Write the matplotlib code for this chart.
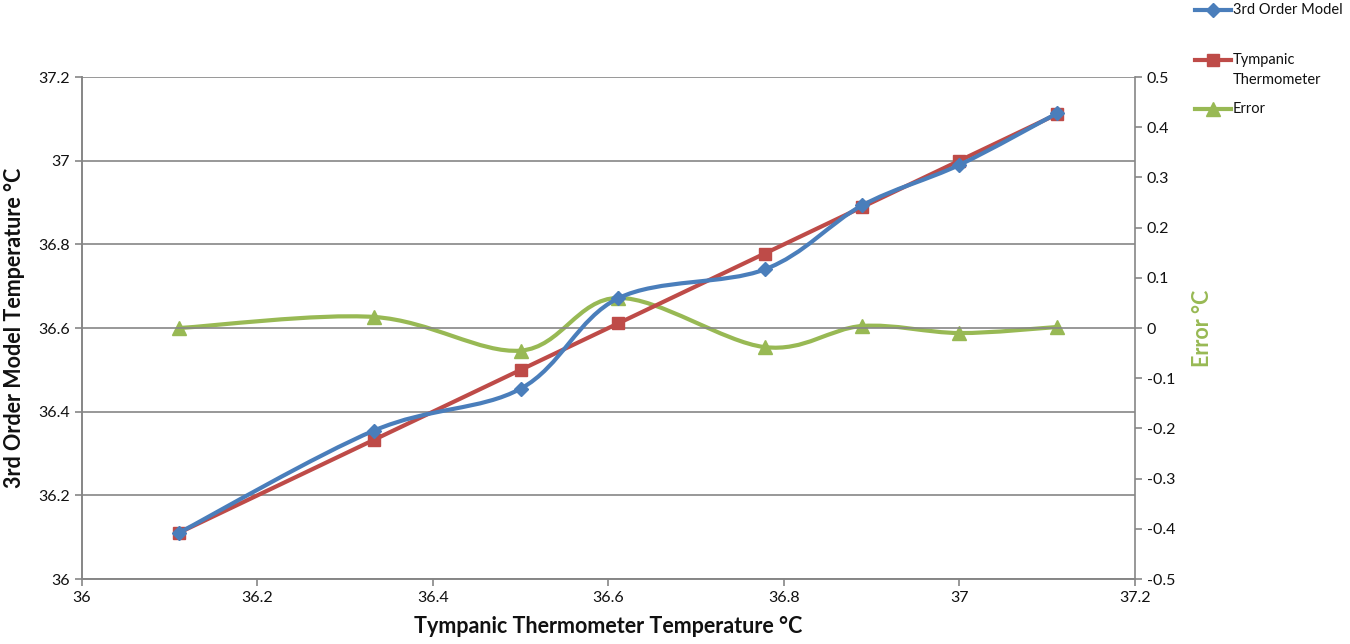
#!/usr/bin/env python3
"""Model vs tympanic thermometer temperature, with error on a secondary axis."""
import numpy as np
import matplotlib
matplotlib.use("Agg")
import matplotlib.pyplot as plt
from matplotlib.path import Path
from matplotlib.patches import PathPatch
from matplotlib.lines import Line2D

plt.rcParams["font.family"] = ["Lato", "DejaVu Sans"]

tympanic = [36.111, 36.333, 36.5, 36.611, 36.778, 36.889, 37.0, 37.111]
model    = [36.111, 36.355, 36.455, 36.671, 36.740, 36.893, 36.990, 37.113]
error    = [0.000, 0.022, -0.045, 0.060, -0.038, 0.004, -0.010, 0.002]

series_labels = ["3rd Order Model", "Tympanic\nThermometer", "Error"]

BLUE  = "#4a7ebb"
RED   = "#be4b48"
GREEN = "#98b954"
GRID  = "#868686"
TEXT  = "#111111"

W, H = 1350, 644


def smooth_path(x, y):
    # Excel-style smoothed line: bezier segments with catmull-rom control points
    x = np.asarray(x, float)
    y = np.asarray(y, float)
    n = len(x)
    verts = [(x[0], y[0])]
    codes = [Path.MOVETO]
    for i in range(n - 1):
        p0 = np.array([x[max(i - 1, 0)], y[max(i - 1, 0)]])
        p1 = np.array([x[i], y[i]])
        p2 = np.array([x[i + 1], y[i + 1]])
        p3 = np.array([x[min(i + 2, n - 1)], y[min(i + 2, n - 1)]])
        c1 = p1 + (p2 - p0) / 6.0
        c2 = p2 - (p3 - p1) / 6.0
        verts += [tuple(c1), tuple(c2), tuple(p2)]
        codes += [Path.CURVE4] * 3
    return Path(verts, codes)


fig = plt.figure(figsize=(W / 100, H / 100), dpi=100)
ax = fig.add_axes([0.0607, 0.1009, 0.78, 0.7795])
ax2 = ax.twinx()

ax.set_xlim(36, 37.2)
ax.set_ylim(36, 37.2)
ax2.set_ylim(-0.5, 0.5)
ax.set_xticks(np.arange(36, 37.21, 0.2))
ax.set_yticks(np.arange(36, 37.21, 0.2))
ax2.set_yticks(np.arange(-0.5, 0.51, 0.1))
ax.set_xticklabels(["36", "36.2", "36.4", "36.6", "36.8", "37", "37.2"])
ax.set_yticklabels(["36", "36.2", "36.4", "36.6", "36.8", "37", "37.2"])
ax2.set_yticklabels(["-0.5", "-0.4", "-0.3", "-0.2", "-0.1", "0",
                     "0.1", "0.2", "0.3", "0.4", "0.5"])

ax.yaxis.grid(True, color=GRID, linewidth=1.2)
ax.set_axisbelow(True)
for a in (ax, ax2):
    for s in a.spines.values():
        s.set_color(GRID)
        s.set_linewidth(1.2)
    a.spines["top"].set_visible(False)
    a.tick_params(colors=GRID, labelcolor=TEXT, labelsize=11.5,
                  direction="out", length=5, width=1.2)
ax.spines["right"].set_visible(False)

# error series (secondary axis)
ax2.add_patch(PathPatch(smooth_path(tympanic, error), fill=False,
                        edgecolor=GREEN, linewidth=3, zorder=2))
ax2.plot(tympanic, error, linestyle="none", marker="^", markersize=10,
         color=GREEN, zorder=3)

# red: thermometer, straight line
ax.plot(tympanic, tympanic, color=RED, linewidth=3, marker="s",
        markersize=9, zorder=3)
ax.add_patch(PathPatch(smooth_path(tympanic, model), fill=False,
                       edgecolor=BLUE, linewidth=3, zorder=4))
ax.plot(tympanic, model, linestyle="none", marker="D", markersize=7,
        color=BLUE, zorder=5)
ax.set_zorder(ax2.get_zorder() + 1)
ax.patch.set_visible(False)

ax.set_xlabel("Tympanic Thermometer Temperature °C", fontsize=15.5,
              fontweight="bold", color=TEXT, labelpad=8)
ax.set_ylabel("3rd Order Model Temperature °C", fontsize=15.5,
              fontweight="bold", color=TEXT, labelpad=10)
ax2.set_ylabel("Error °C", fontsize=15.5, fontweight="bold", color=GREEN,
               labelpad=12)

# legend, Excel style: marker line aligned with the first text line
legend_style = [(BLUE, "D", 7), (RED, "s", 9), (GREEN, "^", 10)]
legend_rows = [10, 60, 109]
x0, x1, xt = 1195 / W, 1231 / W, 1233 / W
for (color, marker, ms), row, label in zip(legend_style, legend_rows, series_labels):
    fy = 1 - row / H
    fig.add_artist(Line2D([x0, x1], [fy, fy], color=color, linewidth=3,
                          transform=fig.transFigure))
    fig.add_artist(Line2D([(x0 + x1) / 2], [fy], color=color, marker=marker,
                          markersize=ms, transform=fig.transFigure))
    fig.text(xt, fy, label.split("\n")[0], fontsize=10.5, color=TEXT,
             va="center", ha="left")
    for k, extra in enumerate(label.split("\n")[1:], start=1):
        fig.text(xt, fy - k * 20 / H, extra, fontsize=10.5, color=TEXT,
                 va="center", ha="left")

fig.savefig("out.png", dpi=100)
